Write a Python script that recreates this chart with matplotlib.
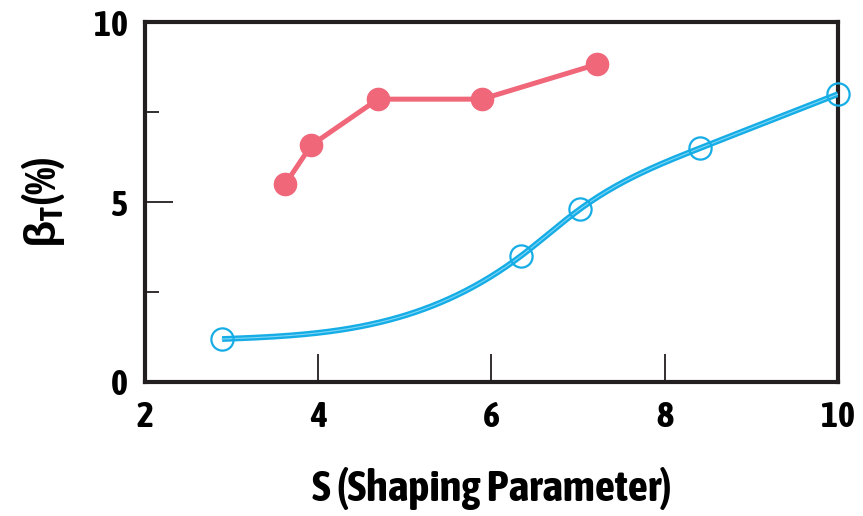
import numpy as np
import matplotlib.pyplot as plt
from matplotlib import font_manager

# measured curves
s_filled = [3.62, 3.92, 4.69, 5.89, 7.22]
beta_filled = [5.5, 6.58, 7.86, 7.86, 8.83]

s_open = [2.89, 6.34, 7.02, 8.41, 10.0]
beta_open = [1.19, 3.5, 4.8, 6.5, 8.0]

x_ticks = [2, 4, 6, 8, 10]
y_ticks = [0, 5, 10]

red = "#f0677a"
blue = "#16ade6"

# prefer a narrow sans that comes with a bold face
bold_narrow = sorted({f.name for f in font_manager.fontManager.ttflist
                      if ("Narrow" in f.name or "Condensed" in f.name)
                      and f.weight in ("bold", 700, "700", "semibold", 600)})
family = bold_narrow[0] if bold_narrow else "Liberation Sans"

plt.rcParams["font.family"] = [family, "DejaVu Sans"]
plt.rcParams["font.weight"] = "bold"
plt.rcParams["mathtext.fontset"] = "custom"
plt.rcParams["mathtext.rm"] = "Liberation Sans"
plt.rcParams["mathtext.bf"] = family + ":bold"


def natural_spline(x, y, xs):
    """Natural cubic spline, just for drawing a smooth line through the points."""
    x = np.asarray(x, float)
    y = np.asarray(y, float)
    n = len(x)
    h = np.diff(x)
    A = np.zeros((n, n))
    b = np.zeros(n)
    A[0, 0] = A[-1, -1] = 1
    for i in range(1, n - 1):
        A[i, i - 1] = h[i - 1]
        A[i, i] = 2 * (h[i - 1] + h[i])
        A[i, i + 1] = h[i]
        b[i] = 6 * ((y[i + 1] - y[i]) / h[i] - (y[i] - y[i - 1]) / h[i - 1])
    M = np.linalg.solve(A, b)
    idx = np.clip(np.searchsorted(x, xs) - 1, 0, n - 2)
    x0, x1 = x[idx], x[idx + 1]
    hh = h[idx]
    return (M[idx] * (x1 - xs) ** 3 / (6 * hh) + M[idx + 1] * (xs - x0) ** 3 / (6 * hh)
            + (y[idx] / hh - M[idx] * hh / 6) * (x1 - xs)
            + (y[idx + 1] / hh - M[idx + 1] * hh / 6) * (xs - x0))


fig = plt.figure(figsize=(8.63, 5.16), dpi=100)
ax = fig.add_axes([0.168, 0.26, 0.803, 0.697])

xs = np.linspace(s_open[0], s_open[-1], 300)
ys = natural_spline(s_open, beta_open, xs)
ax.plot(xs, ys, color=blue, linewidth=4.2, solid_capstyle="butt", zorder=3)
ax.plot(xs, ys, color="#7fd6f5", linewidth=0.8, zorder=3)
ax.plot(s_open, beta_open, linestyle="none", marker="o", markersize=16,
        markerfacecolor="none", markeredgecolor=blue, markeredgewidth=1.6,
        zorder=4, clip_on=False)

ax.plot(s_filled, beta_filled, color=red, linewidth=3.6, marker="o",
        markersize=16, markerfacecolor=red, markeredgecolor=red, zorder=3)

ax.set_xlim(2, 10)
ax.set_ylim(0, 10)
ax.set_xticks(x_ticks)
ax.set_yticks(y_ticks)
ax.set_yticks([2.5, 7.5], minor=True)

for side in ["left", "right", "top", "bottom"]:
    ax.spines[side].set_linewidth(3)
    ax.spines[side].set_color("#231f20")

ax.tick_params(axis="both", which="major", direction="in", length=20,
               width=1.3, color="#231f20", labelsize=26, pad=12)
ax.tick_params(axis="both", which="minor", direction="in", length=10,
               width=1.3, color="#231f20")
ax.tick_params(axis="x", which="both", top=False)
ax.tick_params(axis="y", which="both", right=False)
ax.tick_params(axis="x", pad=13)
for lab in ax.get_xticklabels() + ax.get_yticklabels():
    lab.set_fontweight("bold")

ax.set_xlabel("S (Shaping Parameter)", fontsize=32, fontweight="bold", labelpad=24)
ax.set_ylabel(r"$\mathrm{β}_{\mathbf{T}}$(%)", fontsize=32, fontweight="bold", labelpad=20)

fig.savefig("out.png", dpi=100)
